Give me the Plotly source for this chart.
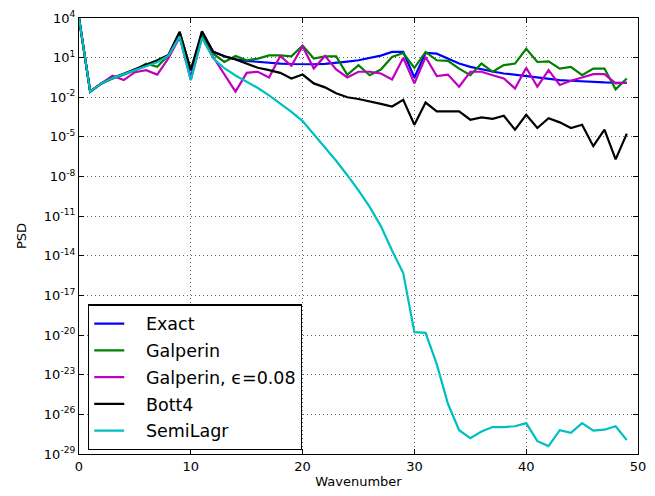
import plotly.graph_objects as go

wavenumber = list(range(50))

exact = [1e4, 0.0269, 0.112, 0.282, 0.562, 1.12, 2.40, 5.25, 14.8, 794,
         0.282, 891, 29.5, 12.6, 7.59, 5.62, 4.68, 3.98, 3.55, 3.31,
         3.16, 3.16, 3.39, 3.98, 5.01, 6.31, 8.91, 14.1, 26.9, 26.9,
         0.316, 22.4, 20.0, 7.94, 3.55, 2.0, 1.26, 0.891, 0.631, 0.501,
         0.355, 0.282, 0.240, 0.200, 0.178, 0.158, 0.141, 0.132, 0.126, 0.126]

galperin = [1e4, 0.0269, 0.112, 0.263, 0.501, 1.12, 3.55, 2.0, 14.8, 891,
            1.26, 562, 20.0, 4.68, 13.5, 6.31, 8.51, 14.8, 14.8, 12.6,
            83.2, 8.51, 12.6, 12.6, 0.501, 2.69, 0.468, 1.26, 11.2, 22.4,
            1.70, 26.9, 6.31, 5.62, 1.48, 0.468, 3.55, 0.851, 2.69, 3.55,
            46.8, 4.68, 5.25, 1.48, 2.0, 0.468, 1.48, 1.48, 0.0398, 0.263]

galperin_eps = [1e4, 0.0269, 0.112, 0.427, 0.2, 0.794, 1.12, 0.525, 8.91, 355,
                0.2, 316, 11.2, 0.562, 0.0269, 0.708, 0.851, 0.316, 13.5, 2.40,
                74.1, 1.48, 13.5, 1.26, 0.316, 0.851, 0.851, 0.631, 0.224, 9.55,
                0.112, 11.2, 0.398, 0.525, 0.0631, 0.851, 0.851, 0.468, 0.263, 0.0468,
                1.70, 0.0631, 1.12, 0.0851, 0.178, 0.316, 0.562, 0.562, 0.112, 0.126]

bott4 = [1e4, 0.0269, 0.112, 0.282, 0.603, 1.26, 2.63, 6.31, 15.8, 891,
         1.12, 1000, 26.9, 12.6, 7.41, 3.55, 1.70, 1.12, 0.708, 0.263,
         0.525, 0.112, 0.0562, 0.0200, 0.0100, 7.41e-3, 5.01e-3, 3.16e-3, 2.0e-3, 6.31e-3,
         8.32e-5, 3.98e-3, 8.51e-4, 8.51e-4, 8.51e-4, 2.0e-4, 3.02e-4, 2.34e-4, 3.98e-4, 3.55e-5,
         4.68e-4, 4.68e-5, 2.63e-4, 1.26e-4, 4.68e-5, 8.32e-5, 2.0e-6, 3.55e-5, 2.0e-7, 1.78e-5]

semilagr = [1e4, 0.0269, 0.112, 0.282, 0.562, 1.12, 2.24, 4.47, 14.1, 398,
            0.2, 316, 8.91, 1.58, 0.447, 0.158, 0.0501, 0.0141, 3.55e-3, 7.94e-4,
            1.58e-4, 1.58e-5, 1.58e-6, 1.58e-7, 1.26e-8, 8.91e-10, 5.01e-11, 1.78e-12, 2.51e-14, 5.01e-16,
            1.66e-20, 1.48e-20, 6.31e-23, 6.31e-26, 6.31e-28, 1.58e-28, 5.01e-28, 1.10e-27, 1.10e-27, 1.26e-27,
            2.19e-27, 9.33e-29, 3.98e-29, 6.31e-28, 3.98e-28, 2.19e-27, 5.89e-28, 6.92e-28, 1.26e-27, 1.12e-28]

series_names = ["Exact", "Galperin", "Galperin, \u03f5=0.08", "Bott4", "SemiLagr"]
series_colors = ["#0000ff", "#008000", "#bf00bf", "#000000", "#00bfbf"]
series_values = [exact, galperin, galperin_eps, bott4, semilagr]

x_ticks = [0, 10, 20, 30, 40, 50]
y_exponents = [4, 1, -2, -5, -8, -11, -14, -17, -20, -23, -26, -29]
y_tickvals = [10.0 ** e for e in y_exponents]
y_ticktext = ["10<sup>%d</sup>" % e for e in y_exponents]

FONT = "DejaVu Sans"
PAD = "\u00a0\u00a0\u00a0"

fig = go.Figure()
for i, (name, color, vals) in enumerate(zip(series_names, series_colors, series_values)):
    fig.add_trace(go.Scatter(x=wavenumber, y=vals, mode="lines", name=PAD + name,
                             legendgroup="g%d" % i,
                             line=dict(color=color, width=2.2)))

axis_common = dict(showline=True, linecolor="black", linewidth=1.3, mirror="allticks",
                   ticks="inside", ticklen=5, tickcolor="black",
                   showgrid=True, gridcolor="rgba(0,0,0,0.6)", gridwidth=1, griddash="1px,3px",
                   zeroline=False, tickfont=dict(family=FONT, size=13, color="black"))

fig.update_layout(
    width=655, height=496,
    margin=dict(l=79, r=9, t=14, b=42),
    paper_bgcolor="white", plot_bgcolor="white",
    font=dict(family=FONT, color="black"),
    showlegend=True,
    legend=dict(x=0.016, y=0.343, xanchor="left", yanchor="top",
                bgcolor="white", bordercolor="black", borderwidth=1.3,
                traceorder="grouped", tracegroupgap=1,
                font=dict(family=FONT, size=17.5, color="black")),
    xaxis=dict(range=[0, 50], tickvals=x_ticks,
               title=dict(text="Wavenumber", font=dict(family=FONT, size=13), standoff=4),
               **axis_common),
    yaxis=dict(type="log", range=[-29, 4], tickvals=y_tickvals, ticktext=y_ticktext,
               title=dict(text="PSD", font=dict(family=FONT, size=13), standoff=14),
               **axis_common),
)

fig.write_html("out.html")
